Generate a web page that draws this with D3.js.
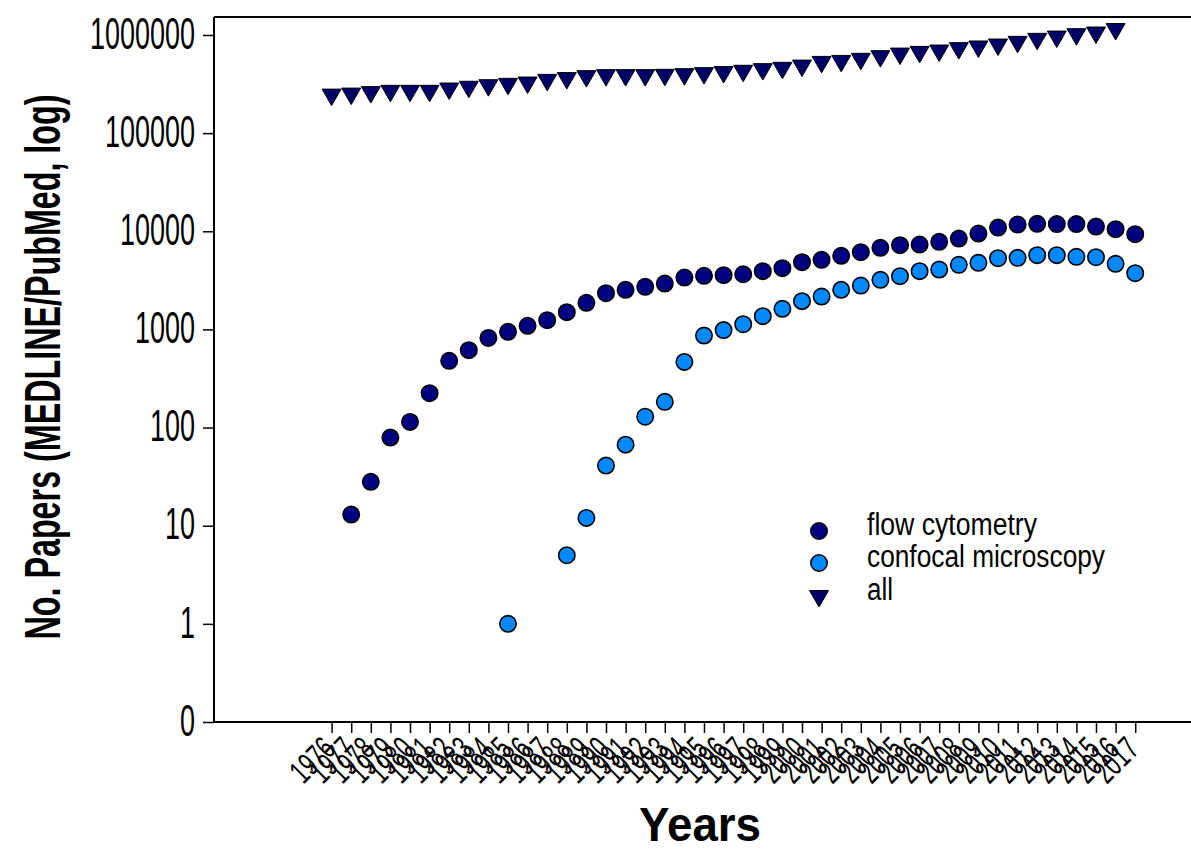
<!DOCTYPE html>
<html>
<head>
<meta charset="utf-8">
<script src="https://cdnjs.cloudflare.com/ajax/libs/d3/7.8.5/d3.min.js"></script>
<style>
  body { margin: 0; background: #fff; }
  svg { display: block; font-family: "Liberation Sans", Arial, sans-serif; }
</style>
</head>
<body>
<svg id="chart" width="1191" height="850"></svg>
<script>
// years on the x axis
var years = d3.range(1976, 2018);

// papers per year (null = nothing plotted)
var flowCytometry = [null, 13, 28, 79, 114, 224, 479, 615, 820, 945,
  1087, 1242, 1500, 1866, 2339, 2530, 2715, 2936, 3380, 3516,
  3574, 3650, 3926, 4211, 4850, 5118, 5620, 6125, 6776, 7225,
  7330, 7805, 8440, 9490, 10920, 11720, 11910, 11830, 11830, 11170,
  10510, 9350];

var confocal = [null, null, null, null, null, null, null, null, null, 1,
  null, null, 5, 12, 41, 67, 129, 183, 467, 866,
  984, 1132, 1365, 1622, 1942, 2163, 2530, 2799, 3200, 3490,
  3926, 4077, 4553, 4770, 5320, 5360, 5710, 5710, 5490, 5450,
  4660, 3740];

var allPapers = [247000, 253000, 262000, 270000, 270000, 270000, 285000, 297000, 308000, 318000,
  328000, 349000, 364000, 381000, 390000, 390000, 390000, 393000, 399000, 409000,
  419000, 432000, 449000, 463000, 488000, 532000, 545000, 572000, 609000, 647000,
  673000, 695000, 735000, 764000, 800000, 852000, 914000, 964000, 1020000, 1060000,
  1150000, null];

var yTicks = [0.1, 1, 10, 100, 1000, 10000, 100000, 1000000];
var yTickLabels = ["0", "1", "10", "100", "1000", "10000", "100000", "1000000"];

var seriesNames = ["flow cytometry", "confocal microscopy", "all"];

var svg = d3.select("#chart");

var plotLeft = 214, plotBottom = 722, plotTop = 17, plotRight = 1194;

var x = d3.scaleLinear().domain([1970, 2020]).range([plotLeft, plotRight]);
var y = d3.scaleLog().domain([0.1, 1000000]).range([plotBottom, 35]);

var dark = "#000080", light = "#0088ff", triFill = "#000066";

// top frame line
svg.append("line")
  .attr("x1", plotLeft).attr("x2", plotRight).attr("y1", plotTop).attr("y2", plotTop)
  .attr("stroke", "#000").attr("stroke-width", 2);

// x axis
var xAxis = svg.append("g")
  .attr("transform", "translate(0," + plotBottom + ")")
  .call(d3.axisBottom(x).tickValues(years).tickSize(11).tickSizeOuter(0).tickFormat(d3.format("d")));
xAxis.select(".domain").attr("d", "M" + plotLeft + ",0H" + plotRight).attr("stroke-width", 2);
xAxis.selectAll(".tick line").attr("stroke-width", 1.5);
xAxis.selectAll(".tick text")
  .attr("font-size", 33)
  .attr("fill", "#000")
  .attr("text-anchor", "end")
  .attr("textLength", 48)
  .attr("lengthAdjust", "spacingAndGlyphs")
  .attr("dy", null)
  .attr("y", 0)
  .attr("transform", "translate(5,29) rotate(-45)");

// y axis
var yAxis = svg.append("g")
  .attr("transform", "translate(" + plotLeft + ",0)")
  .call(d3.axisLeft(y).tickValues(yTicks).tickSize(11).tickSizeOuter(0)
    .tickFormat(function(d, i) { return yTickLabels[i]; }));
yAxis.select(".domain").attr("d", "M0," + plotTop + "V" + plotBottom).attr("stroke-width", 2);
yAxis.selectAll(".tick line").attr("stroke-width", 1.5);
yAxis.selectAll(".tick text")
  .attr("font-size", 44)
  .attr("fill", "#000")
  .attr("x", -19)
  .attr("dy", "0.3em")
  .attr("textLength", function(d, i) { return 15 * yTickLabels[i].length; })
  .attr("lengthAdjust", "spacingAndGlyphs");

// axis titles
svg.append("text")
  .attr("transform", "translate(60,367) rotate(-90)")
  .attr("text-anchor", "middle")
  .attr("font-size", 50)
  .attr("font-weight", "bold")
  .attr("textLength", 545)
  .attr("lengthAdjust", "spacingAndGlyphs")
  .text("No. Papers (MEDLINE/PubMed, log)");

svg.append("text")
  .attr("x", 700).attr("y", 841)
  .attr("text-anchor", "middle")
  .attr("font-size", 48)
  .attr("font-weight", "bold")
  .attr("textLength", 122)
  .attr("lengthAdjust", "spacingAndGlyphs")
  .text("Years");

var tri = d3.symbol().type(d3.symbolTriangle).size(156);

// all papers (triangles)
svg.append("g").selectAll("path")
  .data(years.map(function(yr, i) { return { year: yr, v: allPapers[i] }; }).filter(function(d) { return d.v != null; }))
  .enter().append("path")
  .attr("d", tri)
  .attr("transform", function(d) { return "translate(" + x(d.year) + "," + y(d.v) + ") rotate(180)"; })
  .attr("fill", triFill)
  .attr("stroke", "#000")
  .attr("stroke-width", 1);

function drawCircles(values, color) {
  svg.append("g").selectAll("circle")
    .data(years.map(function(yr, i) { return { year: yr, v: values[i] }; }).filter(function(d) { return d.v != null; }))
    .enter().append("circle")
    .attr("cx", function(d) { return x(d.year); })
    .attr("cy", function(d) { return y(d.v); })
    .attr("r", 8.2)
    .attr("fill", color)
    .attr("stroke", "#000")
    .attr("stroke-width", 1.6);
}
drawCircles(confocal, light);
drawCircles(flowCytometry, dark);

// legend
var legend = svg.append("g");
var legendRows = [
  { name: seriesNames[0], cy: 531, len: 170 },
  { name: seriesNames[1], cy: 563, len: 238 },
  { name: seriesNames[2], cy: 596, len: 26 }
];
legend.append("circle").attr("cx", 819).attr("cy", legendRows[0].cy).attr("r", 8.2)
  .attr("fill", dark).attr("stroke", "#000").attr("stroke-width", 1.6);
legend.append("circle").attr("cx", 819).attr("cy", legendRows[1].cy).attr("r", 8.2)
  .attr("fill", light).attr("stroke", "#000").attr("stroke-width", 1.6);
legend.append("path").attr("d", tri)
  .attr("transform", "translate(819," + legendRows[2].cy + ") rotate(180)")
  .attr("fill", triFill).attr("stroke", "#000").attr("stroke-width", 1);
legend.selectAll("text")
  .data(legendRows)
  .enter().append("text")
  .attr("x", 867)
  .attr("y", function(d) { return d.cy + 4; })
  .attr("font-size", 31)
  .attr("textLength", function(d) { return d.len; })
  .attr("lengthAdjust", "spacingAndGlyphs")
  .text(function(d) { return d.name; });
</script>
</body>
</html>
